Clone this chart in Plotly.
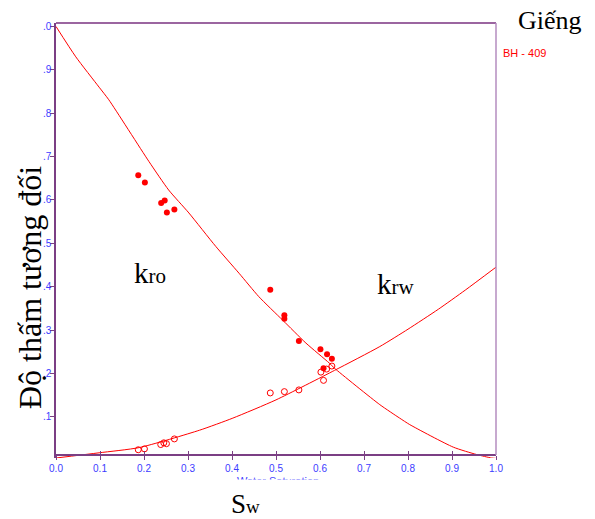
import plotly.graph_objects as go

# ---- data ----
kro_sw = [0.187, 0.202, 0.247, 0.239, 0.252, 0.269, 0.487, 0.519, 0.519, 0.552, 0.601, 0.616, 0.627, 0.608]
kro_val = [0.657, 0.640, 0.599, 0.593, 0.571, 0.578, 0.393, 0.334, 0.326, 0.275, 0.256, 0.244, 0.234, 0.212]

krw_sw = [0.187, 0.201, 0.238, 0.245, 0.251, 0.269, 0.487, 0.519, 0.552, 0.602, 0.615, 0.608, 0.627]
krw_val = [0.024, 0.026, 0.036, 0.040, 0.038, 0.049, 0.155, 0.158, 0.162, 0.203, 0.210, 0.184, 0.217]

kro_fit_sw = [0.0, 0.045, 0.098, 0.120, 0.211, 0.256, 0.302, 0.363, 0.416, 0.461, 0.515, 0.568, 0.621, 0.633,
              0.736, 0.781, 0.804, 0.903, 0.956, 0.990, 1.0]
kro_fit = [1.0, 0.930, 0.860, 0.831, 0.689, 0.623, 0.570, 0.493, 0.431, 0.377, 0.323, 0.270, 0.224, 0.212,
           0.128, 0.097, 0.082, 0.030, 0.013, 0.005, 0.004]

krw_fit_sw = [0.0, 0.098, 0.189, 0.326, 0.402, 0.500, 0.633, 0.736, 0.800, 0.869, 0.930, 1.0]
krw_fit = [0.005, 0.017, 0.029, 0.069, 0.097, 0.139, 0.207, 0.262, 0.302, 0.348, 0.392, 0.445]

x_ticks = [0.0, 0.1, 0.2, 0.3, 0.4, 0.5, 0.6, 0.7, 0.8, 0.9, 1.0]
x_tick_text = ["0.0", "0.1", "0.2", "0.3", "0.4", "0.5", "0.6", "0.7", "0.8", "0.9", "1.0"]
y_ticks = [0.1, 0.2, 0.3, 0.4, 0.5, 0.6, 0.7, 0.8, 0.9, 1.0]
y_tick_text = [".1", ".2", ".3", ".4", ".5", ".6", ".7", ".8", ".9", ".0"]

W, H = 595, 519
L, R, T, B = 56, 99, 23, 61
PW, PH = W - L - R, H - T - B

def px(x):
    return (x - L) / PW

def py(y):
    return (H - B - y) / PH

RED = "#FF0000"
BLUE = "#3C3CFF"
PURPLE = "#7B3F84"
NARROW = "Liberation Sans Narrow, Arial Narrow, Liberation Sans, Arial"
SERIF = "Liberation Serif, Times New Roman, serif"

fig = go.Figure()
fig.add_trace(go.Scatter(x=kro_fit_sw, y=kro_fit, mode="lines",
                         line=dict(color=RED, width=1, shape="spline", smoothing=0.6), showlegend=False))
fig.add_trace(go.Scatter(x=krw_fit_sw, y=krw_fit, mode="lines",
                         line=dict(color=RED, width=1, shape="spline", smoothing=0.6), showlegend=False))
fig.add_trace(go.Scatter(x=kro_sw, y=kro_val, mode="markers", marker=dict(color=RED, size=6, symbol="circle"), showlegend=False))
fig.add_trace(go.Scatter(x=krw_sw, y=krw_val, mode="markers",
                         marker=dict(color=RED, size=6, symbol="circle-open", line=dict(width=1)), showlegend=False))
# dummy trace for the overlay axis that draws the inner half of the x ticks
fig.add_trace(go.Scatter(x=[], y=[], xaxis="x2", showlegend=False))

xpos = 3 / PH
fig.update_layout(
    width=W, height=H, autosize=False,
    margin=dict(l=L, r=R, t=T, b=B, pad=0),
    paper_bgcolor="white", plot_bgcolor="white",
    xaxis=dict(range=[0, 1], tickvals=x_ticks, ticktext=x_tick_text, showgrid=False, zeroline=False,
               showline=True, linecolor=PURPLE, linewidth=2, ticks="outside", ticklen=4, tickcolor=PURPLE,
               tickfont=dict(family=NARROW, size=10, color=BLUE), anchor="free", position=xpos),
    xaxis2=dict(range=[0, 1], overlaying="x", tickvals=x_ticks, showticklabels=False, showgrid=False,
                zeroline=False, showline=False, ticks="inside", ticklen=4, tickcolor=PURPLE,
                anchor="free", position=xpos, side="bottom"),
    yaxis=dict(range=[0.005, 1.008], tickvals=y_ticks, ticktext=y_tick_text, showgrid=False, zeroline=False,
               showline=True, linecolor=PURPLE, linewidth=1.5, ticks="outside", ticklen=4, tickcolor=PURPLE,
               tickfont=dict(family=NARROW, size=10, color=BLUE), ticklabelstandoff=-3),
)

# top and right frame lines
fig.add_shape(type="line", xref="paper", yref="paper", x0=0, x1=1, y0=1, y1=1,
              line=dict(color="#9B65A0", width=2))
fig.add_shape(type="line", xref="paper", yref="paper", x0=1, x1=1, y0=xpos, y1=1,
              line=dict(color="#B48CBF", width=1.5))

ann = [
    dict(x=px(278), y=py(481), text="Water Saturation", font=dict(family=NARROW, size=11, color=BLUE)),
    dict(x=px(278), y=py(487), text=" ", width=120, height=12, bgcolor="white"),
    dict(x=px(550), y=py(21), text="Giếng", font=dict(family=SERIF, size=26, color="black")),
    dict(x=px(524), y=py(53), text="BH - 409", font=dict(family=NARROW, size=11, color=RED)),
    dict(x=px(30), y=py(288), text="Độ thấm tương đối", textangle=-90, font=dict(family=SERIF, size=32, color="black")),
    dict(x=px(150), y=py(273), text="k<span style='font-size:21px'>ro</span>", font=dict(family=SERIF, size=29, color="black")),
    dict(x=px(395), y=py(284), text="k<span style='font-size:21px'>rw</span>", font=dict(family=SERIF, size=29, color="black")),
    dict(x=px(245), y=py(504), text="S<span style='font-size:19px'>w</span>", font=dict(family=SERIF, size=27, color="black")),
]
for a in ann:
    fig.add_annotation(xref="paper", yref="paper", showarrow=False, xanchor="center", yanchor="middle", **a)

fig.write_html("out.html")
